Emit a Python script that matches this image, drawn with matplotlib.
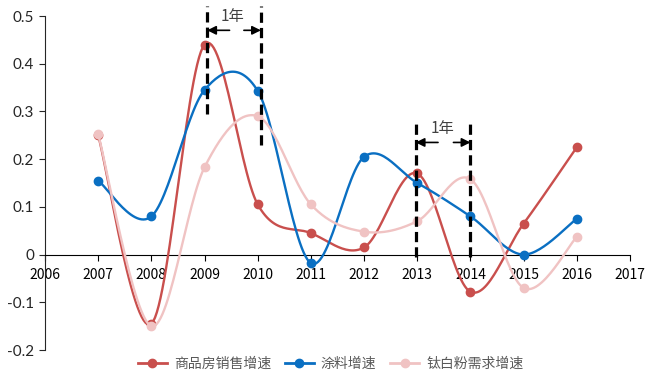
import numpy as np
import matplotlib
matplotlib.use("Agg")
import matplotlib.pyplot as plt
from matplotlib.lines import Line2D

plt.rcParams['font.family'] = ['Noto Sans CJK SC', 'DejaVu Sans']

years = [2007, 2008, 2009, 2010, 2011, 2012, 2013, 2014, 2015, 2016]
housing_sales = [0.25, -0.145, 0.44, 0.105, 0.045, 0.015, 0.17, -0.078, 0.065, 0.225]
coatings = [0.155, 0.08, 0.345, 0.343, -0.018, 0.205, 0.15, 0.08, 0.0, 0.075]
tio2_demand = [0.252, -0.15, 0.183, 0.29, 0.105, 0.048, 0.07, 0.158, -0.07, 0.037]

series_names = ['商品房销售增速', '涂料增速', '钛白粉需求增速']
series_colors = ['#C94F4D', '#0A6FC2', '#F0C3C3']

x_ticks = list(range(2006, 2018))
y_ticks = [-0.2, -0.1, 0, 0.1, 0.2, 0.3, 0.4, 0.5]
y_tick_labels = ['-0.2', '-0.1', '0', '0.1', '0.2', '0.3', '0.4', '0.5']

# lag markers: (left x, right x, top, bottom of left line, bottom of right line, arrow height)
lag_pairs = [(2009.05, 2010.06, 0.52, 0.295, 0.23, 0.47),
             (2012.97, 2014.0, 0.278, -0.006, -0.006, 0.235)]
lag_label = '1年'


def smooth(xs, ys, n=30):
    """Bezier smoothing through every point (Catmull-Rom style)."""
    xs = np.asarray(xs, float)
    ys = np.asarray(ys, float)
    P = np.column_stack([xs, ys])
    ext = np.vstack([P[0], P, P[-1]])
    out = []
    t = np.linspace(0, 1, n)[:, None]
    for i in range(len(P) - 1):
        p0, p1, p2, p3 = ext[i], ext[i + 1], ext[i + 2], ext[i + 3]
        c1 = p1 + (p2 - p0) / 6.0
        c2 = p2 - (p3 - p1) / 6.0
        seg = ((1 - t) ** 3) * p1 + 3 * ((1 - t) ** 2) * t * c1 + 3 * (1 - t) * t ** 2 * c2 + t ** 3 * p2
        out.append(seg if i == 0 else seg[1:])
    seg = np.vstack(out)
    return seg[:, 0], seg[:, 1]


fig = plt.figure(figsize=(6.57, 3.74), dpi=100)
ax = fig.add_axes([45 / 657, 24 / 374, 585 / 657, 334 / 374])

order = [2, 0, 1]
data = [housing_sales, coatings, tio2_demand]
for k in order:
    sx, sy = smooth(years, data[k])
    ax.plot(sx, sy, color=series_colors[k], lw=1.7, zorder=3 + k, solid_capstyle='round')
    ax.plot(years, data[k], 'o', color=series_colors[k], ms=6, zorder=3 + k)

ax.set_xlim(2006, 2017)
ax.set_ylim(-0.2, 0.5)
ax.set_xticks(x_ticks)
ax.set_xticklabels([str(v) for v in x_ticks], fontsize=10, color='#595959', family=['Lato', 'DejaVu Sans'])
ax.set_yticks(y_ticks)
ax.set_yticklabels(y_tick_labels, fontsize=11, color='#262626', family=['Lato', 'DejaVu Sans'])

ax.spines['top'].set_visible(False)
ax.spines['right'].set_visible(False)
ax.spines['bottom'].set_position(('data', 0))
ax.spines['bottom'].set_color('#000000')
ax.spines['left'].set_color('#262626')
ax.tick_params(axis='x', direction='out', length=4, color='#000000', pad=6)
ax.tick_params(axis='y', direction='out', length=4, color='#262626', pad=4)

dash = (0, (3.2, 1.6))
for x0, x1, top, b0, b1, ya in lag_pairs:
    ax.plot([x0, x0], [b0, top], ls=dash, color='black', lw=2.3, clip_on=False, zorder=8)
    ax.plot([x1, x1], [b1, top], ls=dash, color='black', lw=2.3, clip_on=False, zorder=8)
    ax.annotate('', xy=(x0, ya), xytext=(x0 + 0.42, ya),
                arrowprops=dict(arrowstyle='-|>', color='black', lw=1.2, mutation_scale=13,
                                shrinkA=0, shrinkB=0), zorder=9)
    ax.annotate('', xy=(x1, ya), xytext=(x1 - 0.32, ya),
                arrowprops=dict(arrowstyle='-|>', color='black', lw=1.2, mutation_scale=13,
                                shrinkA=0, shrinkB=0), zorder=9)
    ax.text((x0 + x1) / 2 - 0.02, ya + 0.012, lag_label, ha='center', va='bottom', fontsize=11,
            color='#404040', zorder=9)

handles = [Line2D([0], [0], color=c, lw=2, marker='o', ms=6) for c in series_colors]
leg = fig.legend(handles, series_names, loc='center', bbox_to_anchor=(0.503, 10 / 374), ncol=3,
                 frameon=False, fontsize=10, handlelength=2.1, columnspacing=1.0, handletextpad=0.5)
for t in leg.get_texts():
    t.set_color('#595959')

fig.savefig('out.png', dpi=100)
